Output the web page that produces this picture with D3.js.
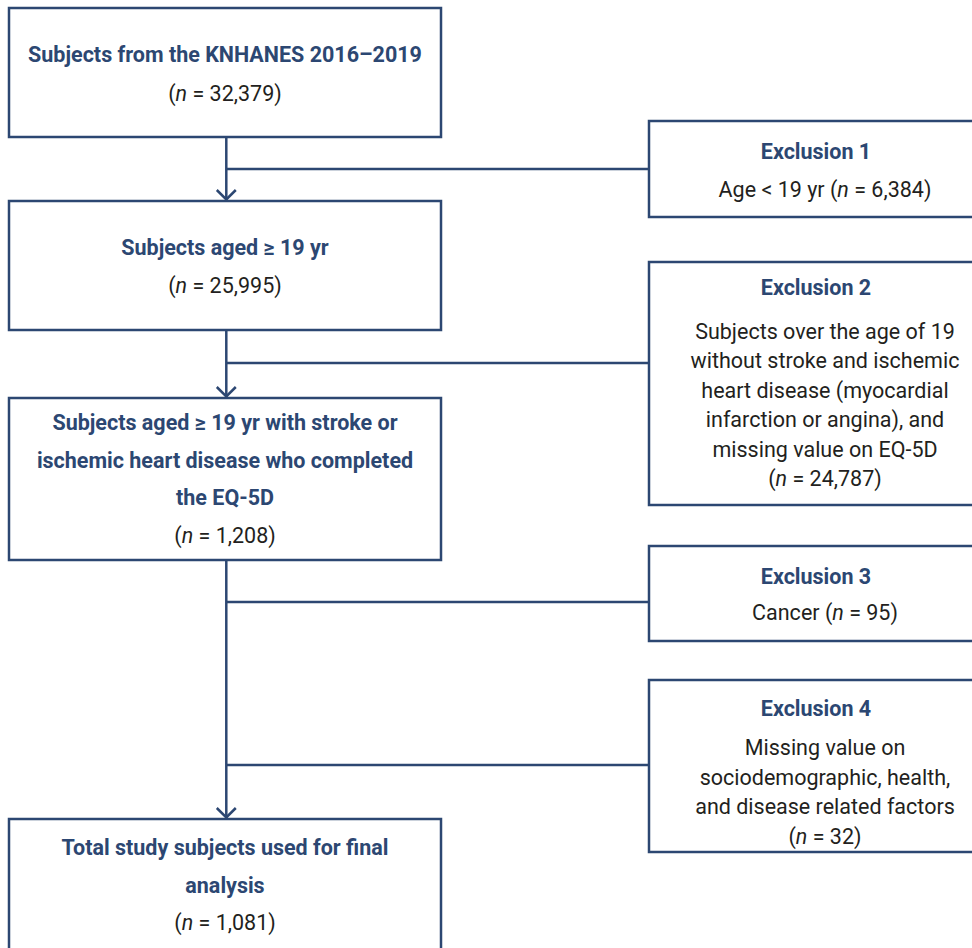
<!DOCTYPE html>
<html>
<head>
<meta charset="utf-8">
<script src="https://cdn.jsdelivr.net/npm/d3@7"></script>
<style>
  html, body { margin: 0; padding: 0; background: #fff; }
  svg { display: block; font-family: Roboto, "Noto Sans", sans-serif; }
</style>
</head>
<body>
<script>
(function (d3) {
  "use strict";

  /***** Data *****/
  var mainTitles = [
    ["Subjects from the KNHANES 2016\u20132019"],
    ["Subjects aged \u2265 19 yr"],
    ["Subjects aged \u2265 19 yr with stroke or", "ischemic heart disease who completed", "the EQ-5D"],
    ["Total study subjects used for final", "analysis"]
  ];
  var mainN = ["32,379", "25,995", "1,208", "1,081"];

  var exclTitles = ["Exclusion 1", "Exclusion 2", "Exclusion 3", "Exclusion 4"];
  var exclText = [
    ["Age < 19 yr"],
    ["Subjects over the age of 19", "without stroke and ischemic", "heart disease (myocardial", "infarction or angina), and", "missing value on EQ-5D"],
    ["Cancer"],
    ["Missing value on", "sociodemographic, health,", "and disease related factors"]
  ];
  var exclN = ["6,384", "24,787", "95", "32"];

  /***** Layout *****/
  var width = 972, height = 948;
  var navy = "#2c4772", ink = "#231f20";
  var lineW = 2.5;
  var titleSize = 21.5, bodySize = 21.5;

  var mainBoxes = [
    { y0: 8, y1: 137, first: 62, lh: 38, nGap: 39 },
    { y0: 201, y1: 330, first: 255, lh: 38, nGap: 37.5 },
    { y0: 398, y1: 560, first: 430, lh: 37.5, nGap: 38 },
    { y0: 819, y1: 960, first: 855, lh: 37.5, nGap: 37.5 }
  ];
  var exclBoxes = [
    { y0: 121, y1: 217, link: 169, first: 159, gap: 38, lh: 29 },
    { y0: 262, y1: 505, link: 363, first: 295, gap: 44, lh: 29.4 },
    { y0: 546, y1: 641, link: 602, first: 584, gap: 36, lh: 29 },
    { y0: 680, y1: 852, link: 765, first: 716, gap: 39, lh: 29.5 }
  ];
  var mainX0 = 9, mainX1 = 441, exclX0 = 649, exclX1 = 990;
  var spineX = d3.scaleLinear().domain([0, 1]).range([mainX0, mainX1])(0.503);
  var exclTitleCx = 816, exclBodyCx = 825;

  var svg = d3.select("body").append("svg")
      .attr("width", width)
      .attr("height", height);

  /***** Connectors *****/
  var lines = svg.append("g")
      .attr("stroke", navy)
      .attr("stroke-width", lineW)
      .attr("fill", "none");

  // vertical spine between consecutive main boxes
  d3.range(mainBoxes.length - 1).forEach(function (i) {
    var top = mainBoxes[i].y1, bottom = mainBoxes[i + 1].y0;
    lines.append("line")
        .attr("x1", spineX).attr("x2", spineX)
        .attr("y1", top).attr("y2", bottom - 1);
    lines.append("path")
        .attr("stroke-linejoin", "miter")
        .attr("d", d3.line()([[spineX - 9.5, bottom - 11], [spineX, bottom - 1.5], [spineX + 9.5, bottom - 11]]));
  });

  // horizontal links to exclusion boxes
  lines.selectAll("line.link")
    .data(exclBoxes)
    .join("line")
      .attr("class", "link")
      .attr("x1", spineX).attr("x2", exclX0)
      .attr("y1", function (d) { return d.link; })
      .attr("y2", function (d) { return d.link; });

  /***** Boxes *****/
  var boxes = svg.append("g")
      .attr("stroke", navy)
      .attr("stroke-width", lineW)
      .attr("fill", "#fff");

  boxes.selectAll("rect.main")
    .data(mainBoxes)
    .join("rect")
      .attr("class", "main")
      .attr("x", mainX0).attr("width", mainX1 - mainX0)
      .attr("y", function (d) { return d.y0; })
      .attr("height", function (d) { return d.y1 - d.y0; });

  boxes.selectAll("rect.excl")
    .data(exclBoxes)
    .join("rect")
      .attr("class", "excl")
      .attr("x", exclX0).attr("width", exclX1 - exclX0)
      .attr("y", function (d) { return d.y0; })
      .attr("height", function (d) { return d.y1 - d.y0; });

  /***** Text *****/
  function nLine(sel, prefix, n) {
    sel.append("tspan").text(prefix + "(");
    sel.append("tspan").attr("font-style", "italic").text("n");
    sel.append("tspan").text(" = " + n + ")");
  }

  var text = svg.append("g").attr("text-anchor", "middle");

  mainBoxes.forEach(function (b, i) {
    var title = mainTitles[i];
    var cx = 225;
    title.forEach(function (t, j) {
      text.append("text")
          .attr("x", cx).attr("y", b.first + j * b.lh)
          .attr("fill", navy)
          .attr("font-weight", 700)
          .attr("font-size", titleSize)
          .text(t);
    });
    var nt = text.append("text")
        .attr("x", cx).attr("y", b.first + (title.length - 1) * b.lh + b.nGap)
        .attr("fill", ink)
        .attr("font-size", bodySize);
    nLine(nt, "", mainN[i]);
  });

  exclBoxes.forEach(function (b, i) {
    text.append("text")
        .attr("x", exclTitleCx).attr("y", b.first)
        .attr("fill", navy)
        .attr("font-weight", 700)
        .attr("font-size", titleSize)
        .text(exclTitles[i]);
    var body = exclText[i];
    if (body.length === 1) {
      var t1 = text.append("text")
          .attr("x", exclBodyCx).attr("y", b.first + b.gap)
          .attr("fill", ink)
          .attr("font-size", bodySize);
      nLine(t1, body[0] + " ", exclN[i]);
    } else {
      body.forEach(function (t, j) {
        text.append("text")
            .attr("x", exclBodyCx).attr("y", b.first + b.gap + j * b.lh)
            .attr("fill", ink)
            .attr("font-size", bodySize)
            .text(t);
      });
      var tn = text.append("text")
          .attr("x", exclBodyCx).attr("y", b.first + b.gap + body.length * b.lh)
          .attr("fill", ink)
          .attr("font-size", bodySize);
      nLine(tn, "", exclN[i]);
    }
  });

})(d3);
</script>
</body>
</html>
